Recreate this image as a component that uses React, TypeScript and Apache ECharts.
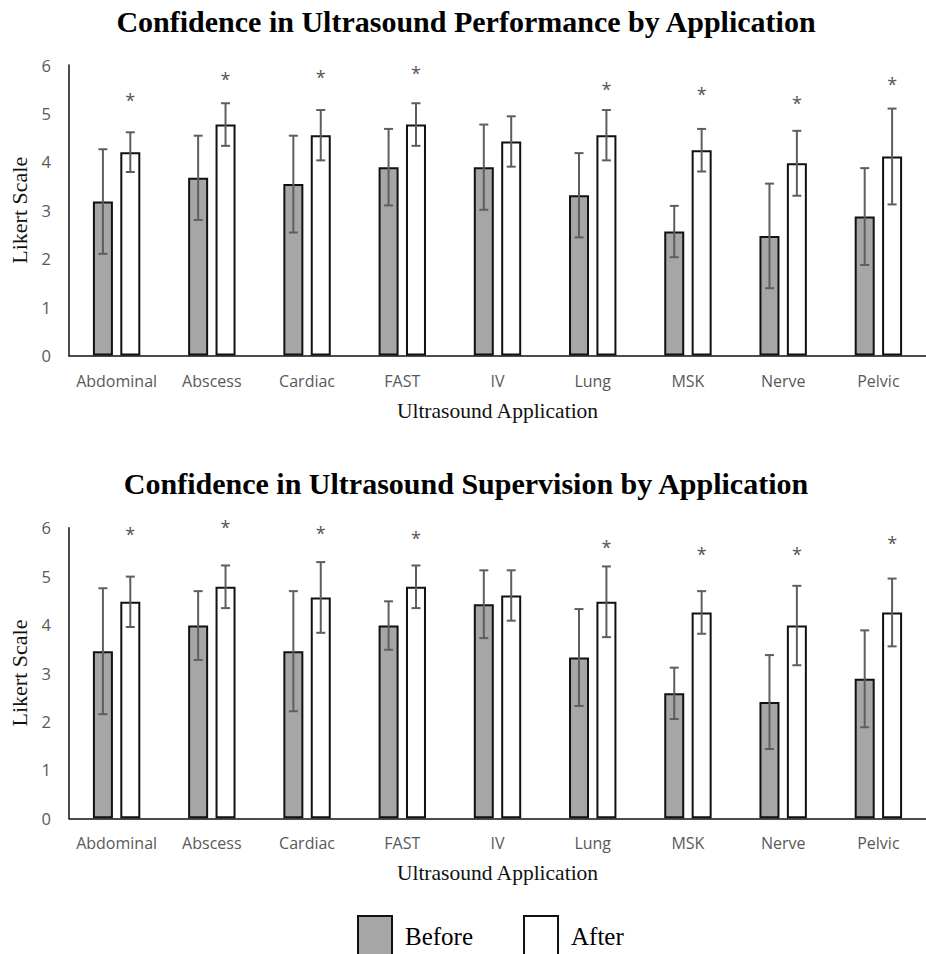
import React, { useEffect, useRef } from "react";
import * as echarts from "echarts";

const categories = ["Abdominal", "Abscess", "Cardiac", "FAST", "IV", "Lung", "MSK", "Nerve", "Pelvic"];

const perfBefore = [3.18, 3.67, 3.54, 3.89, 3.89, 3.31, 2.56, 2.47, 2.87];
const perfBeforeSd = [1.08, 0.87, 1.0, 0.79, 0.88, 0.87, 0.53, 1.08, 1.0];
const perfAfter = [4.2, 4.77, 4.55, 4.77, 4.42, 4.55, 4.24, 3.97, 4.11];
const perfAfterSd = [0.41, 0.44, 0.52, 0.44, 0.52, 0.52, 0.44, 0.67, 0.99];
const perfStar = [5.37, 5.79, 5.83, 5.91, null, 5.59, 5.48, 5.3, 5.7];

const supBefore = [3.45, 3.98, 3.45, 3.98, 4.42, 3.32, 2.58, 2.4, 2.88];
const supBeforeSd = [1.3, 0.71, 1.24, 0.5, 0.7, 1.0, 0.53, 0.97, 1.0];
const supAfter = [4.47, 4.78, 4.56, 4.78, 4.6, 4.47, 4.25, 3.98, 4.25];
const supAfterSd = [0.52, 0.44, 0.73, 0.44, 0.52, 0.73, 0.44, 0.82, 0.7];
const supStar = [5.95, 6.09, 5.97, 5.88, null, 5.68, 5.54, 5.54, 5.76];

const titles = [
  "Confidence in Ultrasound Performance by Application",
  "Confidence in Ultrasound Supervision by Application",
];
const xName = "Ultrasound Application";
const yName = "Likert Scale";
const seriesNames = ["Before", "After"];

const BAR_W = 20;
const BAR_GAP = 0.37;
const OFFSET = (BAR_W * (1 + BAR_GAP)) / 2;
const ERR_COLOR = "#5e5e5e";
const SERIF = "'Liberation Serif', 'Times New Roman', serif";
const SANS = "'Open Sans', 'Liberation Sans', sans-serif";

function errRender(sign: number) {
  return (params: any, api: any) => {
    const i = api.value(0);
    const lo = api.coord([i, api.value(1)]);
    const hi = api.coord([i, api.value(2)]);
    const x = lo[0] + sign * OFFSET;
    const st = { stroke: ERR_COLOR, lineWidth: 2 };
    return {
      type: "group",
      children: [
        { type: "line", shape: { x1: x, y1: hi[1], x2: x, y2: lo[1] }, style: st },
        { type: "line", shape: { x1: x - 4.5, y1: hi[1], x2: x + 4.5, y2: hi[1] }, style: st },
        { type: "line", shape: { x1: x - 4.5, y1: lo[1], x2: x + 4.5, y2: lo[1] }, style: st },
      ],
    };
  };
}

function starRender(params: any, api: any) {
  const i = api.value(0);
  const p = api.coord([i, api.value(1)]);
  return {
    type: "text",
    x: p[0] + OFFSET,
    y: p[1] + 4,
    style: {
      text: "*",
      fontSize: 18,
      fontFamily: SANS,
      fill: "#555",
      align: "center",
      verticalAlign: "middle",
    },
  };
}

function buildSeries(idx: number, before: number[], bSd: number[], after: number[], aSd: number[], star: (number | null)[]) {
  return [
    {
      name: seriesNames[0],
      type: "bar",
      xAxisIndex: idx,
      yAxisIndex: idx,
      data: before,
      barWidth: BAR_W,
      barGap: BAR_GAP * 100 + "%",
      itemStyle: { color: "#a6a6a6", borderColor: "#111", borderWidth: 2 },
      silent: true,
    },
    {
      name: seriesNames[1],
      type: "bar",
      xAxisIndex: idx,
      yAxisIndex: idx,
      data: after,
      barWidth: BAR_W,
      barGap: BAR_GAP * 100 + "%",
      itemStyle: { color: "#ffffff", borderColor: "#111", borderWidth: 2 },
      silent: true,
    },
    {
      type: "custom",
      xAxisIndex: idx,
      yAxisIndex: idx,
      renderItem: errRender(-1),
      data: before.map((v, i) => [i, v - bSd[i], v + bSd[i]]),
      silent: true,
      z: 10,
    },
    {
      type: "custom",
      xAxisIndex: idx,
      yAxisIndex: idx,
      renderItem: errRender(1),
      data: after.map((v, i) => [i, v - aSd[i], v + aSd[i]]),
      silent: true,
      z: 10,
    },
    {
      type: "custom",
      xAxisIndex: idx,
      yAxisIndex: idx,
      renderItem: starRender,
      clip: false,
      data: star.map((v, i) => (v == null ? null : [i, v])).filter((d) => d != null),
      silent: true,
      z: 10,
    },
  ];
}

function xAxis(idx: number) {
  return {
    type: "category",
    gridIndex: idx,
    data: categories,
    axisLine: { show: true, lineStyle: { color: "#111", width: 1.5 } },
    axisTick: { show: false },
    axisLabel: { color: "#595959", fontSize: 16, fontFamily: SANS, margin: 17, interval: 0 },
    name: xName,
    nameLocation: "middle",
    nameGap: 44,
    nameTextStyle: { color: "#111", fontSize: 21.5, fontFamily: SERIF },
    splitLine: { show: false },
  };
}

function yAxis(idx: number) {
  return {
    type: "value",
    gridIndex: idx,
    min: 0,
    max: 6,
    interval: 1,
    axisLine: { show: true, lineStyle: { color: "#111", width: 1.5 } },
    axisTick: { show: false },
    axisLabel: { color: "#595959", fontSize: 16.5, fontFamily: SANS, margin: 18 },
    splitLine: { show: false },
    name: yName,
    nameLocation: "middle",
    nameGap: 33,
    nameRotate: 90,
    nameTextStyle: { color: "#111", fontSize: 22, fontFamily: SERIF },
  };
}

export default function App() {
  const ref = useRef<HTMLDivElement>(null);
  useEffect(() => {
    if (!ref.current) return;
    const chart = echarts.init(ref.current, undefined, { renderer: "svg" });
    chart.setOption({
      animation: false,
      backgroundColor: "#ffffff",
      title: [
        {
          text: titles[0],
          left: 461,
          top: 1,
          textAlign: "center",
          textStyle: { fontFamily: SERIF, fontWeight: "bold", fontSize: 30, color: "#000" },
        },
        {
          text: titles[1],
          left: 461,
          top: 463,
          textAlign: "center",
          textStyle: { fontFamily: SERIF, fontWeight: "bold", fontSize: 30, color: "#000" },
        },
      ],
      legend: {
        data: seriesNames,
        left: 357,
        top: 915,
        padding: 0,
        icon: "rect",
        itemWidth: 34,
        itemHeight: 40,
        itemGap: 50,
        selectedMode: false,
        textStyle: { fontFamily: SERIF, fontSize: 25, color: "#000", padding: [0, 0, 0, 8] },
      },
      grid: [
        { left: 69, top: 65, width: 857, height: 290.5 },
        { left: 69, top: 527.7, width: 857, height: 290.6 },
      ],
      xAxis: [xAxis(0), xAxis(1)],
      yAxis: [yAxis(0), yAxis(1)],
      series: [
        ...buildSeries(0, perfBefore, perfBeforeSd, perfAfter, perfAfterSd, perfStar),
        ...buildSeries(1, supBefore, supBeforeSd, supAfter, supAfterSd, supStar),
      ],
    });
    return () => chart.dispose();
  }, []);
  return (
    <div
      ref={ref}
      style={{ position: "absolute", left: 0, top: 0, width: 926, height: 954, background: "#fff" }}
    />
  );
}
